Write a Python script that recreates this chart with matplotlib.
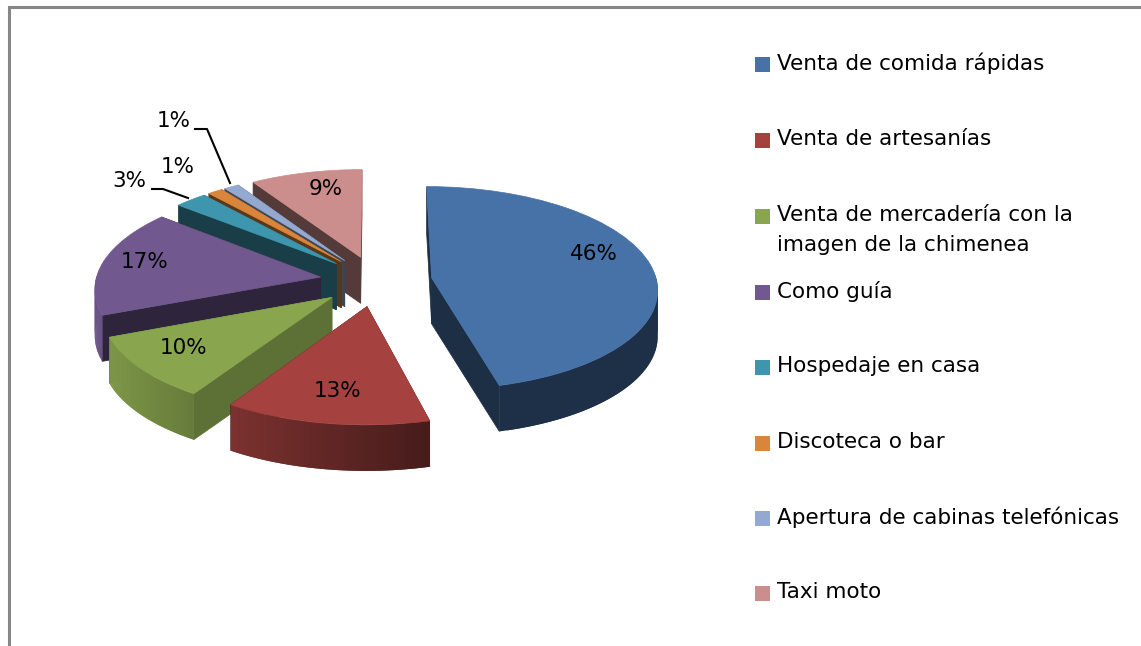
import numpy as np
import matplotlib
matplotlib.use("Agg")
import matplotlib.pyplot as plt
from matplotlib.patches import Polygon, Rectangle
from matplotlib.transforms import Transform

# Data
categories = ["Venta de comida rápidas", "Venta de artesanías",
              "Venta de mercadería con la\nimagen de la chimenea", "Como guía",
              "Hospedaje en casa", "Discoteca o bar",
              "Apertura de cabinas telefónicas", "Taxi moto"]
values = [46, 13, 10, 17, 2.6, 1.2, 1.2, 9]
pct_labels = ["46%", "13%", "10%", "17%", "3%", "1%", "1%", "9%"]
colors = ["#4672A8", "#A5423F", "#89A54E", "#71588F", "#3E96AE", "#D9853B", "#93A9CF", "#CC8E8C"]
side_shade = [0.41, 0.41, 0.68, 0.41, 0.41, 0.41, 0.41, 0.41]

# Pie geometry in pixels
CX, CY = 376, 281
A, B = 225, 101
K = 0.10
DEPTH = 46


def project(uv):
    uv = np.asarray(uv, dtype=float)
    s = 1 / (1 + K * uv[:, 1])
    return np.column_stack((CX + A * uv[:, 0] * s, CY - B * uv[:, 1] * s))


# Maps the flat pie onto the tilted plane
class Tilt(Transform):
    input_dims = 2
    output_dims = 2

    def transform_non_affine(self, values):
        return project(values)


def shaded(color, f):
    return tuple(np.array(matplotlib.colors.to_rgb(color)) * f)


fig = plt.figure(figsize=(11.41, 6.46), dpi=100)
ax = fig.add_axes([0, 0, 1, 1])

wedges, _ = ax.pie(values, explode=[0.25] * len(values), colors=colors, startangle=90,
                   counterclock=False, radius=1)
ax.set_aspect("auto")
ax.set_xlim(0, 1141)
ax.set_ylim(646, 0)
ax.axis("off")
tilt = Tilt() + ax.transData

# back slices first, front last
draw_order = [7, 6, 5, 4, 3, 2, 1, 0]
for rank, i in enumerate(draw_order):
    w = wedges[i]
    c = np.array(w.center)
    z = 2 + rank * 3

    # two cut faces
    for ang in (w.theta1, w.theta2):
        rim = c + [np.cos(np.radians(ang)), np.sin(np.radians(ang))]
        top = project([c, rim])
        poly = np.vstack((top, top[::-1] + [0, DEPTH]))
        ax.add_patch(Polygon(poly, closed=True, fc=shaded(colors[i], side_shade[i]),
                             ec=shaded(colors[i], side_shade[i]), lw=0.5, zorder=z))

    # outer wall, split up so it can be shaded; each piece overlaps the next to hide seams
    angs = np.linspace(w.theta1, w.theta2, 90)
    for k in range(len(angs) - 1):
        mid = (angs[k] + angs[k + 1]) / 2
        if np.sin(np.radians(mid)) > 0.02:
            continue
        sweep = np.radians(angs[k:min(k + 3, len(angs))])
        top = project(c + np.column_stack((np.cos(sweep), np.sin(sweep))))
        poly = np.vstack((top, top[::-1] + [0, DEPTH]))
        f = np.clip(0.525 - 0.42 * np.cos(np.radians(mid)), 0.42, 1)
        ax.add_patch(Polygon(poly, closed=True, fc=shaded(colors[i], f), ec="none",
                             snap=False, zorder=z + 1))

    # top face
    w.set_transform(tilt)
    w.set_zorder(z + 2)
    w.set_edgecolor(colors[i])
    w.set_linewidth(0.5)
    w.set_clip_on(False)

# Percent labels
label_pos = [(594, 254), (338, 391), (184, 348), (145, 262), (129, 181), (178, 167), (174, 121), (326, 189)]
for txt, (x, y) in zip(pct_labels, label_pos):
    ax.text(x, y, txt, fontsize=15.5, color="black", ha="center", va="center", zorder=50)

# Leader lines
ax.plot([195, 207, 230], [129, 129, 183], color="black", lw=1.5, zorder=49)
ax.plot([152, 163, 188], [189, 189, 198], color="black", lw=1.5, zorder=49)

# Legend
legend_y = [64, 140, 216, 292, 367, 443, 518, 593]
for name, col, y in zip(categories, colors, legend_y):
    ax.add_patch(Rectangle((755, y - 7), 15, 15, fc=col, ec="none", zorder=5))
    ax.text(777, y - 11, name, fontsize=15.5, color="black", ha="left", va="top",
            linespacing=1.6, zorder=5)

# Frame
ax.plot([1141, 9, 9], [7, 7, 646], color="#868686", lw=2.2, solid_joinstyle="miter", zorder=60)

fig.savefig("out.png", dpi=100, facecolor="white")
